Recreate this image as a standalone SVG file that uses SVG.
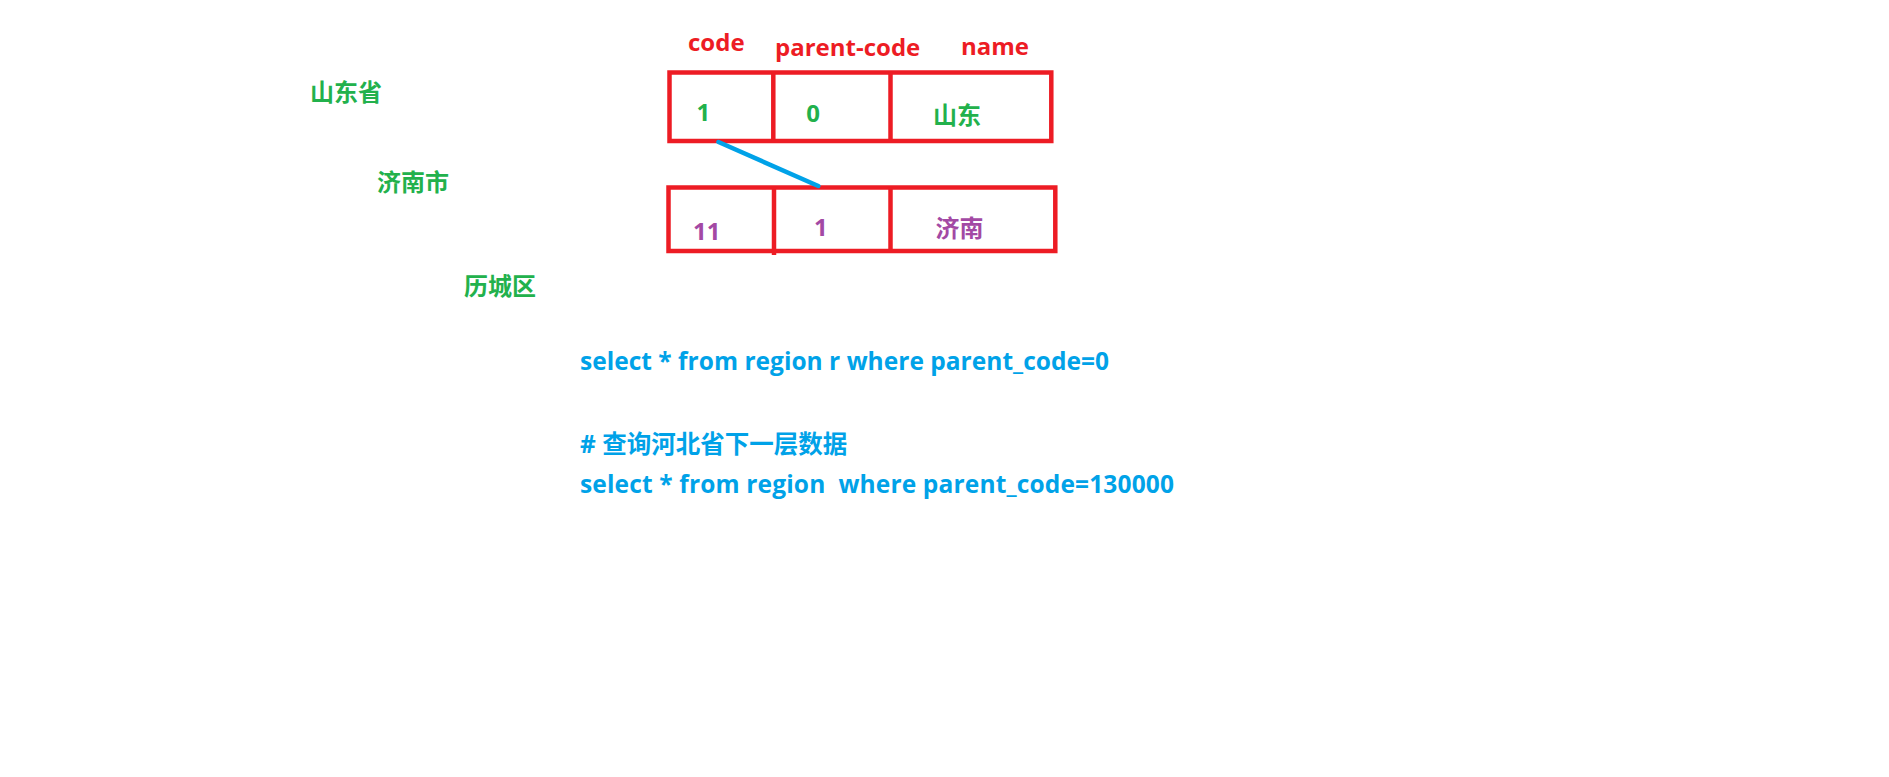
<svg xmlns="http://www.w3.org/2000/svg" width="1889" height="777" viewBox="0 0 1889 777">
<style>
  text { font-family: "Open Sans", "Noto Sans CJK SC", sans-serif; font-weight: bold; }
  .hdr { fill: #ED1C24; font-size: 24px; }
  .cell { fill: none; stroke: #ED1C24; stroke-width: 4.5; }
  .g { fill: #22B14C; font-size: 24px; }
  .p { fill: #A349A4; font-size: 24px; }
  .sql { fill: #00A2E8; font-size: 24.5px; }
  .cjk { font-family: "Noto Sans CJK SC", sans-serif; }
  .link { stroke: #00A2E8; stroke-width: 4.5; fill: none; stroke-linecap: round; }
</style>
<rect width="1889" height="777" fill="#FFFFFF"/>

<g id="header">
  <text class="hdr" x="688" y="51">code</text>
  <text class="hdr" x="775" y="56">parent-code</text>
  <text class="hdr" x="961" y="55">name</text>
</g>

<g id="row-shandong">
  <rect class="cell" x="669.5" y="72.5" width="381.8" height="68.5"/>
  <line class="cell" x1="773.3" y1="72.5" x2="773.3" y2="141"/>
  <line class="cell" x1="890.5" y1="72.5" x2="890.5" y2="141"/>
  <text class="g" x="703.3" y="121" text-anchor="middle">1</text>
  <text class="g" x="813" y="122" text-anchor="middle">0</text>
  <text class="g cjk" x="933" y="124">山东</text>
</g>

<g id="row-jinan">
  <rect class="cell" x="668.5" y="187.5" width="386.8" height="63.5"/>
  <line class="cell" x1="774" y1="187.5" x2="774" y2="255"/>
  <line class="cell" x1="890.5" y1="187.5" x2="890.5" y2="251"/>
  <text class="p" x="706.8" y="240" text-anchor="middle">11</text>
  <text class="p" x="820.8" y="235.5" text-anchor="middle">1</text>
  <text class="p cjk" x="935.5" y="237">济南</text>
</g>

<g id="connectors">
  <line class="link" x1="718.5" y1="142" x2="818.3" y2="186"/>
</g>

<g id="hierarchy">
  <text class="g cjk" x="310" y="101">山东省</text>
  <text class="g cjk" x="377" y="191">济南市</text>
  <text class="g cjk" x="464" y="295">历城区</text>
</g>

<g id="sql">
  <text class="sql" x="580" y="370" textLength="529" lengthAdjust="spacing">select * from region r where parent_code=0</text>
  <text class="sql" x="580" y="453"># 查询河北省下一层数据</text>
  <text class="sql" x="580" y="493" xml:space="preserve" textLength="594" lengthAdjust="spacing">select * from region  where parent_code=130000</text>
</g>
</svg>
